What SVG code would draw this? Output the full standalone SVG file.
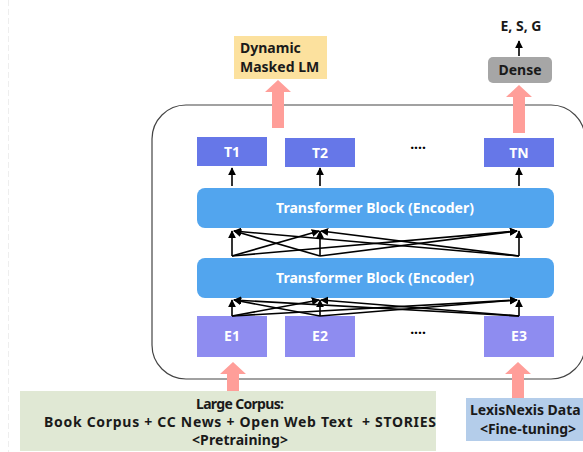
<svg xmlns="http://www.w3.org/2000/svg" width="583" height="452" viewBox="0 0 583 452">
  <style>
    text { font-family: "Noto Sans", "Open Sans", sans-serif; font-weight: bold; }
    .lbl { font-size: 14px; fill: #1a1a1a; }
    .wt { font-size: 14px; fill: #ffffff; text-anchor: middle; }
    .tbox { fill: #6677E8; }
    .ebox { fill: #8E8CF0; }
    .block { fill: #52A5EE; }
    .pink { fill: #FF9E99; }
    .thin { stroke: #000; stroke-width: 1.6; fill: none; marker-end: url(#ah); }
  </style>
  <defs>
    <marker id="ah" viewBox="0 0 10 10" refX="9" refY="5" markerWidth="5" markerHeight="5" orient="auto">
      <path d="M0,0 L10,5 L0,10 z" fill="#000"/>
    </marker>
  </defs>

  <rect width="583" height="452" fill="#ffffff"/>
  <line x1="8.5" y1="0" x2="8.5" y2="452" stroke="#eeeeee" stroke-width="1" stroke-dasharray="6 3"/>

  <!-- encoder container -->
  <g id="container">
    <rect x="152" y="105" width="433" height="274" rx="34" fill="none" stroke="#444" stroke-width="1.2"/>
  </g>

  <!-- output heads -->
  <g id="mlm">
    <rect x="234" y="36" width="93" height="43" fill="#FCE19E"/>
    <text class="lbl" x="240" y="53">Dynamic</text>
    <text class="lbl" x="240" y="72">Masked LM</text>
  </g>
  <g id="dense">
    <rect x="488" y="57" width="64" height="26" rx="5" fill="#A6A6A6"/>
    <text class="lbl" x="520" y="75" text-anchor="middle">Dense</text>
  </g>
  <g id="esg">
    <text class="lbl" x="521" y="31" text-anchor="middle">E, S, G</text>
  </g>

  <!-- token outputs -->
  <g id="t1"><rect class="tbox" x="197" y="137" width="70" height="29"/><text class="wt" x="232" y="157">T1</text></g>
  <g id="t2"><rect class="tbox" x="285" y="138" width="70" height="29"/><text class="wt" x="320" y="158">T2</text></g>
  <g id="tdots"><text x="418" y="153" font-size="14" text-anchor="middle" fill="#000">····</text></g>
  <g id="tn"><rect class="tbox" x="484" y="138" width="70" height="29"/><text class="wt" x="519" y="158">TN</text></g>

  <!-- transformer blocks -->
  <g id="block1">
    <rect class="block" x="197" y="188" width="357" height="40" rx="8"/>
    <text class="wt" x="375" y="213">Transformer Block (Encoder)</text>
  </g>
  <g id="block2">
    <rect class="block" x="197" y="258" width="357" height="40" rx="8"/>
    <text class="wt" x="375" y="283">Transformer Block (Encoder)</text>
  </g>

  <!-- embeddings -->
  <g id="e1"><rect class="ebox" x="197" y="316" width="70" height="41"/><text class="wt" x="232" y="341">E1</text></g>
  <g id="e2"><rect class="ebox" x="285" y="316" width="70" height="41"/><text class="wt" x="320" y="341">E2</text></g>
  <g id="edots"><text x="418" y="338" font-size="14" text-anchor="middle" fill="#000">····</text></g>
  <g id="e3"><rect class="ebox" x="484" y="316" width="70" height="41"/><text class="wt" x="519" y="341">E3</text></g>

  <!-- corpora -->
  <g id="large-corpus">
    <rect x="20" y="391" width="416" height="60" fill="#E0E8D4"/>
    <text class="lbl" x="240" y="409" text-anchor="middle" textLength="88">Large Corpus:</text>
    <text class="lbl" x="240" y="427" text-anchor="middle" textLength="392" xml:space="preserve">Book Corpus + CC News + Open Web Text  + STORIES</text>
    <text class="lbl" x="240" y="445" text-anchor="middle" textLength="96">&lt;Pretraining&gt;</text>
  </g>
  <g id="lexisnexis">
    <rect x="466" y="398" width="130" height="43" fill="#B4CDEA"/>
    <text class="lbl" x="470" y="415">LexisNexis Data</text>
    <text class="lbl" x="528" y="434" text-anchor="middle">&lt;Fine-tuning&gt;</text>
  </g>

  <!-- connectors -->
  <g id="connectors">
    <!-- wide arrows -->
    <path class="pink" d="M272,128 L272,92 L265,92 L278,80 L291,92 L284,92 L284,128 Z"/>
    <path class="pink" d="M513,133 L513,97 L506,97 L519,85 L532,97 L525,97 L525,133 Z"/>
    <path class="pink" d="M227,391 L227,374 L220,374 L233,362 L246,374 L239,374 L239,391 Z"/>
    <path class="pink" d="M512,398 L512,374 L505,374 L518,362 L531,374 L524,374 L524,398 Z"/>

    <!-- to outputs -->
    <line class="thin" x1="519" y1="56" x2="519" y2="41"/>
    <line class="thin" x1="232" y1="186" x2="232" y2="168"/>
    <line class="thin" x1="320" y1="186" x2="320" y2="168"/>
    <line class="thin" x1="519" y1="186" x2="519" y2="168"/>

    <!-- block2 -> block1 (all-to-all) -->
    <line class="thin" x1="232" y1="256" x2="232" y2="231"/>
    <line class="thin" x1="232" y1="256" x2="319" y2="231"/>
    <line class="thin" x1="232" y1="256" x2="517" y2="231"/>
    <line class="thin" x1="320" y1="256" x2="320" y2="231"/>
    <line class="thin" x1="320" y1="256" x2="234" y2="231"/>
    <line class="thin" x1="320" y1="256" x2="517" y2="231"/>
    <line class="thin" x1="519" y1="256" x2="519" y2="231"/>
    <line class="thin" x1="519" y1="256" x2="234" y2="231"/>
    <line class="thin" x1="519" y1="256" x2="321" y2="231"/>

    <!-- embeddings -> block2 (all-to-all) -->
    <line class="thin" x1="232" y1="316" x2="232" y2="300"/>
    <line class="thin" x1="232" y1="316" x2="319" y2="300"/>
    <line class="thin" x1="232" y1="316" x2="517" y2="300"/>
    <line class="thin" x1="320" y1="316" x2="320" y2="300"/>
    <line class="thin" x1="320" y1="316" x2="234" y2="300"/>
    <line class="thin" x1="320" y1="316" x2="517" y2="300"/>
    <line class="thin" x1="519" y1="316" x2="519" y2="300"/>
    <line class="thin" x1="519" y1="316" x2="234" y2="300"/>
    <line class="thin" x1="519" y1="316" x2="321" y2="300"/>
  </g>
</svg>
